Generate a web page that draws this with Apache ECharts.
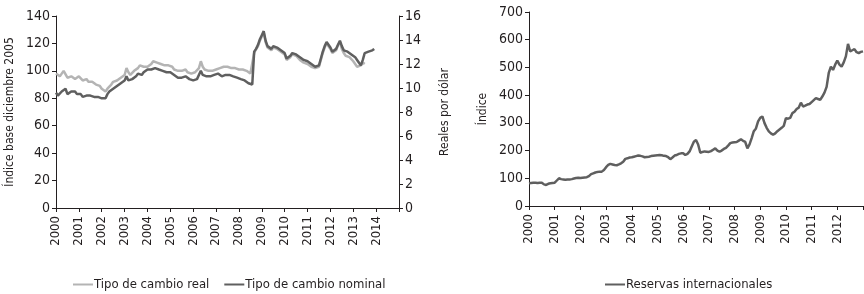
<!DOCTYPE html>
<html>
<head>
<meta charset="utf-8">
<script src="https://cdn.jsdelivr.net/npm/echarts@6/dist/echarts.min.js"></script>
<style>
  html, body { margin: 0; padding: 0; background: #fff; }
  #chart { width: 864px; height: 294px; }
</style>
</head>
<body>
<div id="chart"></div>
<script>
// meses 2000-01 .. 2015-01 (izq) y 2000-01 .. 2013-01 (der)
const yearsLeft = [2000, 2001, 2002, 2003, 2004, 2005, 2006, 2007, 2008, 2009, 2010, 2011, 2012, 2013, 2014, 2015]
const yearsRight = [2000, 2001, 2002, 2003, 2004, 2005, 2006, 2007, 2008, 2009, 2010, 2011, 2012, 2013]

// Tipo de cambio real (índice base diciembre 2005), mensual desde 2000-01
const tcReal = [
  98, 97, 96, 97, 100, 101, 95, 94, 96, 95, 94, 95,
  96, 95, 93, 92, 94, 92, 91, 92, 91, 90, 89, 89,
  87, 86, 85, 87, 88, 90, 92, 93, 93, 94, 95, 96,
  97, 102, 99, 97, 98, 100, 101, 102, 104, 105, 103, 102,
  103, 104, 105, 107, 107, 106, 106, 105, 105, 104, 104, 104,
  104, 103, 101, 100, 100, 99, 100, 101, 101, 99, 98, 98,
  97, 99, 100, 102, 107, 103, 101, 101, 100, 100, 100, 100,
  101, 101, 102, 102, 103, 103, 103, 103, 102, 102, 102, 102,
  101, 101, 101, 100, 100, 99, 98, 97, 113, 116, 118, 122,
  125, 128, 121, 117, 116, 115, 117, 118, 116, 115, 114, 113,
  112, 108, 107, 110, 112, 111, 111, 110, 108, 107, 106, 106,
  105, 104, 103, 102, 102, 101, 103, 108, 113, 117, 120, 118,
  116, 113, 112, 115, 119, 121, 116, 113, 111, 110, 110, 109,
  107, 105, 103, 102, 104, 106, 105
]

// Tipo de cambio nominal (reales por dólar), mensual desde 2000-01
const tcNominal = [
  9.60, 9.37, 9.49, 9.71, 9.83, 9.94, 9.49, 9.60, 9.71, 9.83, 9.71, 9.49,
  9.37, 9.49, 9.26, 9.14, 9.37, 9.49, 9.37, 9.26, 9.26, 9.14, 9.26, 9.14,
  9.14, 9.03, 9.14, 9.49, 9.71, 9.83, 9.94, 10.06, 10.17, 10.29, 10.40, 10.51,
  10.63, 10.97, 10.63, 10.51, 10.74, 10.86, 10.97, 11.20, 11.20, 11.09, 11.31, 11.43,
  11.54, 11.54, 11.54, 11.66, 11.66, 11.54, 11.54, 11.43, 11.43, 11.31, 11.31, 11.31,
  11.31, 11.20, 11.09, 11.09, 10.86, 10.74, 10.86, 10.97, 10.97, 10.86, 10.74, 10.63,
  10.63, 10.74, 10.74, 10.86, 11.43, 11.09, 10.97, 10.97, 10.97, 10.97, 11.09, 11.09,
  11.20, 11.20, 11.09, 10.97, 10.97, 11.09, 11.09, 11.09, 10.97, 10.97, 10.97, 10.86,
  10.86, 10.74, 10.74, 10.63, 10.51, 10.40, 10.29, 10.29, 13.03, 13.26, 13.60, 14.06,
  14.40, 14.74, 13.94, 13.49, 13.37, 13.26, 13.49, 13.60, 13.37, 13.26, 13.14, 13.03,
  12.91, 12.46, 12.34, 12.69, 12.91, 12.91, 12.80, 12.80, 12.57, 12.46, 12.34, 12.23,
  12.23, 12.11, 12.00, 11.89, 11.77, 11.77, 11.89, 12.46, 13.03, 13.49, 13.83, 13.60,
  13.37, 13.03, 12.91, 13.26, 13.60, 13.94, 13.49, 13.14, 13.03, 13.03, 12.91, 12.80,
  12.69, 12.57, 12.34, 12.11, 11.89, 12.34, 12.91, 13.03, 13.03, 13.14, 13.14, 13.26
]

// Reservas internacionales (índice), mensual desde 2000-01
const reservas = [
  82, 83, 84, 84, 83, 84, 84, 78, 76, 80, 82, 83,
  84, 92, 100, 97, 96, 95, 96, 96, 97, 99, 101, 102,
  101, 102, 103, 104, 108, 115, 118, 121, 123, 124, 124, 130,
  140, 148, 152, 150, 148, 147, 150, 154, 160, 170, 172, 175,
  176, 178, 180, 182, 181, 179, 176, 177, 178, 180, 181, 182,
  183, 184, 183, 181, 180, 176, 169, 175, 182, 184, 188, 190,
  190, 184, 188, 197, 215, 232, 238, 222, 192, 195, 197, 196,
  195, 198, 203, 208, 200, 196, 200, 206, 210, 218, 227, 229,
  230, 231, 236, 241, 235, 231, 208, 222, 245, 270, 280, 305,
  318, 323, 299, 282, 269, 262, 257, 262, 270, 276, 282, 289,
  317, 315, 318, 335, 340, 350, 355, 373, 359, 362, 366, 368,
  375, 382, 389, 386, 383, 395, 409, 430, 480, 503, 491, 510,
  525, 510, 503, 518, 540, 585, 558, 562, 566, 555, 552, 556,
  558
]

function months(years) {
  const out = []
  years.forEach((y, i) => {
    const n = i === years.length - 1 ? 1 : 12
    for (let m = 1; m <= n; m++) out.push(y + '-' + (m < 10 ? '0' + m : m))
  })
  return out
}
const catLeft = months(yearsLeft)
const catRight = months(yearsRight)

const FONT = "'DejaVu Sans Condensed', sans-serif"
const TXT = '#231f20'
const LIGHT = '#b4b4b4'
const DARK = '#5f5f5f'

function xAxis(gridIndex, data, lastYear) {
  const isJan = (i, v) => v.slice(5) === '01'
  return {
    type: 'category',
    gridIndex: gridIndex,
    data: data,
    boundaryGap: false,
    axisLine: { lineStyle: { color: TXT, width: 1 } },
    axisTick: { interval: isJan, length: 4, lineStyle: { color: TXT } },
    axisLabel: {
      interval: isJan,
      rotate: 90,
      margin: 8,
      color: TXT,
      fontFamily: FONT,
      fontSize: 13,
      formatter: v => (v.slice(0, 4) === String(lastYear) ? '' : v.slice(0, 4))
    },
    splitLine: { show: false }
  }
}

function yAxis(gridIndex, max, interval, name, position) {
  return {
    type: 'value',
    gridIndex: gridIndex,
    position: position,
    min: 0,
    max: max,
    interval: interval,
    name: name,
    nameLocation: 'middle',
    nameGap: 40,
    nameRotate: 90,
    nameTextStyle: { color: TXT, fontFamily: FONT, fontSize: 12 },
    axisLine: { show: true, lineStyle: { color: TXT, width: 1 } },
    axisTick: { show: true, length: 4, lineStyle: { color: TXT } },
    axisLabel: { color: TXT, fontFamily: FONT, fontSize: 14, margin: 6 },
    splitLine: { show: false }
  }
}

const chart = echarts.init(document.getElementById('chart'), null, { renderer: 'canvas' })
chart.setOption({
  backgroundColor: '#fff',
  animation: false,
  textStyle: { fontFamily: FONT },
  grid: [
    { left: 56, right: 465, top: 16, bottom: 86 },
    { left: 529, right: 1, top: 12, bottom: 88 }
  ],
  legend: [
    {
      data: ['Tipo de cambio real', 'Tipo de cambio nominal'],
      left: 68,
      top: 273,
      icon: 'rect',
      itemWidth: 20,
      itemHeight: 2,
      itemGap: 15,
      textStyle: { color: TXT, fontFamily: FONT, fontSize: 13, padding: [0, 0, 0, -4] }
    },
    {
      data: ['Reservas internacionales'],
      left: 600,
      top: 273,
      icon: 'rect',
      itemWidth: 20,
      itemHeight: 2,
      textStyle: { color: TXT, fontFamily: FONT, fontSize: 13, padding: [0, 0, 0, -4] }
    }
  ],
  xAxis: [
    xAxis(0, catLeft, 2015),
    xAxis(1, catRight, 2013)
  ],
  yAxis: [
    yAxis(0, 140, 20, 'Índice base diciembre 2005', 'left'),
    yAxis(0, 16, 2, 'Reales por dólar', 'right'),
    yAxis(1, 700, 100, 'Índice', 'left')
  ],
  series: [
    {
      name: 'Tipo de cambio real',
      type: 'line',
      xAxisIndex: 0,
      yAxisIndex: 0,
      data: tcReal,
      showSymbol: false,
      lineStyle: { color: LIGHT, width: 2.5 },
      itemStyle: { color: LIGHT }
    },
    {
      name: 'Tipo de cambio nominal',
      type: 'line',
      xAxisIndex: 0,
      yAxisIndex: 1,
      data: tcNominal,
      showSymbol: false,
      lineStyle: { color: DARK, width: 2.5 },
      itemStyle: { color: DARK }
    },
    {
      name: 'Reservas internacionales',
      type: 'line',
      xAxisIndex: 1,
      yAxisIndex: 2,
      data: reservas,
      showSymbol: false,
      lineStyle: { color: DARK, width: 2.5 },
      itemStyle: { color: DARK }
    }
  ]
})
</script>
</body>
</html>
